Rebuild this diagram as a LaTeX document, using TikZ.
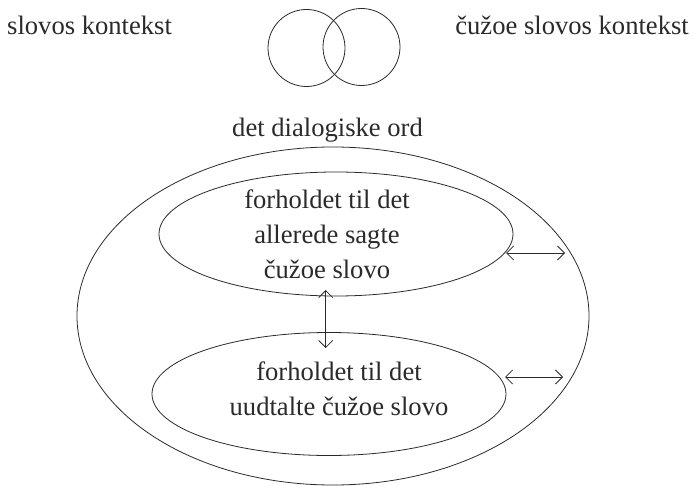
\documentclass[tikz,border=0pt]{standalone}
\usepackage{fontspec}
\setmainfont{Liberation Serif}
\usetikzlibrary{shapes.geometric,arrows.meta}
\definecolor{ink}{HTML}{2A2A2A}
\tikzset{
  lbl/.style={inner sep=0pt, text=ink, font=\fontsize{26.6}{35}\selectfont},
  oval/.style={draw=ink, ellipse, inner sep=0pt, line width=0.8pt},
  ring/.style={draw=ink, circle, inner sep=0pt, minimum size=77pt, line width=0.8pt},
  dbl/.style={draw=ink, {Straight Barb[length=7pt,width=14pt]}-{Straight Barb[length=7pt,width=14pt]}, line width=0.8pt}
}
\begin{document}
\begin{tikzpicture}[x=1pt,y=-1pt]
\useasboundingbox (0,0) rectangle (698,486);
% top row
\node[lbl, anchor=base west] (ctxL) at (7,35) {slovos kontekst};
\node[lbl, anchor=base east] (ctxR) at (689,35) {čužoe slovos kontekst};
\node[ring] (cL) at (306.5,48) {};
\node[ring] (cR) at (361.5,47) {};
% title
\node[lbl, anchor=base] (title) at (327.5,137) {det dialogiske ord};
% ellipses
\node[oval, minimum width=512pt, minimum height=338pt] (outer) at (333,316) {};
\node[oval, minimum width=354pt, minimum height=124pt] (upper) at (336,234) {};
\node[oval, minimum width=354pt, minimum height=123pt] (lower) at (329,394) {};
% texts
\node[lbl, align=center] (tU) at (327,234) {forholdet til det\\allerede sagte\\čužoe slovo};
\node[lbl, align=center] (tL) at (339,389) {forholdet til det\\uudtalte čužoe slovo};
% arrows
\coordinate (v1) at (325.7,290);
\coordinate (v2) at (325.7,348);
\coordinate (a1) at (506,253);
\coordinate (a2) at (565,253);
\coordinate (b1) at (505,377);
\coordinate (b2) at (563,377);
\draw[dbl] (v1) -- (v2);
\draw[dbl] (a1) -- (a2);
\draw[dbl] (b1) -- (b2);
\end{tikzpicture}
\end{document}
